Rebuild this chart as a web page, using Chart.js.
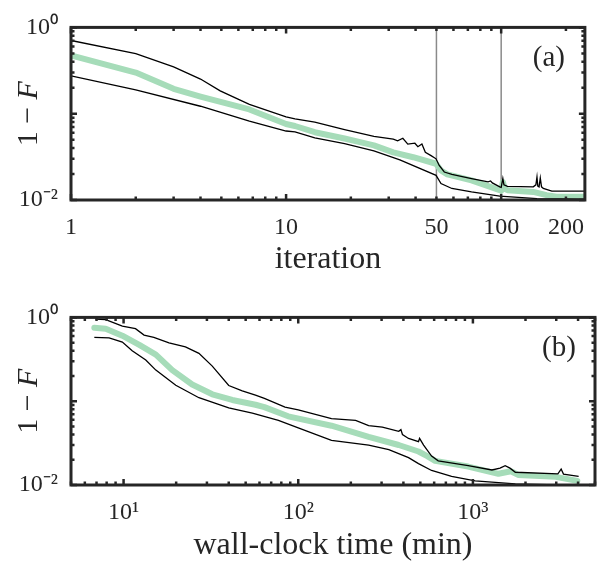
<!DOCTYPE html>
<html><head><meta charset="utf-8">
<script src="https://cdn.jsdelivr.net/npm/chart.js@4/dist/chart.umd.min.js"></script>
<style>
html,body{margin:0;padding:0;background:#fff;}
#wrap{position:relative;width:597px;height:562px;}
canvas{position:absolute;left:0;}
</style></head><body>
<div id="wrap">
<canvas id="ca" width="597" height="290" style="top:0"></canvas>
<canvas id="cb" width="597" height="272" style="top:290px"></canvas>
</div>
<script>
// ---------- Panel (a): 1 - F versus iteration ----------
const upperIterA = [1, 2, 3, 4, 4.94, 6.75, 10, 11, 13.6, 18.7, 25.6, 31.5, 33, 34.9, 36.8, 39.7, 41, 42.8, 44.4, 47.2, 49.8, 51.5, 54.4, 59, 72.8, 86.9, 89.3, 91, 98.5, 100, 101.8, 103, 107, 141, 145, 146.7, 148, 150, 152, 154, 157, 172, 245];
const upperValA  = [0.705, 0.496, 0.349, 0.252, 0.184, 0.128, 0.092, 0.087, 0.080, 0.0655, 0.0545, 0.0507, 0.0485, 0.052, 0.0445, 0.0455, 0.0414, 0.0445, 0.0357, 0.0327, 0.030, 0.0251, 0.0211, 0.0198, 0.0177, 0.0162, 0.0166, 0.0158, 0.0142, 0.0140, 0.0178, 0.0150, 0.0144, 0.0142, 0.0150, 0.0185, 0.0145, 0.0142, 0.0180, 0.0142, 0.0136, 0.0127, 0.0127];
const meanIterA  = [1, 2, 3, 4, 6.75, 10, 11, 13.6, 18.7, 25.6, 31.5, 39, 49.8, 52.5, 56.2, 72.8, 98.5, 100, 101.8, 104, 107, 141, 162.5, 181, 245];
const meanValA   = [0.475, 0.30, 0.194, 0.158, 0.112, 0.076, 0.072, 0.061, 0.0516, 0.043, 0.0356, 0.0313, 0.0263, 0.022, 0.0198, 0.0169, 0.013, 0.0128, 0.0162, 0.0135, 0.013, 0.0124, 0.0114, 0.0109, 0.0109];
const lowerIterA = [1, 2, 4, 6.75, 10, 11, 13.6, 18.7, 25.6, 33.8, 49.8, 52.5, 59, 72.8, 98.5, 146.7, 245];
const lowerValA  = [0.275, 0.189, 0.122, 0.082, 0.063, 0.0615, 0.0525, 0.045, 0.037, 0.0292, 0.0193, 0.0155, 0.0136, 0.0124, 0.0111, 0.0104, 0.0102];
const markerIterA = [50, 100];
const xTicksA = [1, 10, 50, 100, 200];
const xTickLabelsA = ['1', '10', '50', '100', '200'];

// ---------- Panel (b): 1 - F versus wall-clock time ----------
const upperTimeB = [6.9, 7.9, 9.84, 11.7, 13.1, 14.9, 18.2, 22.6, 27, 32.2, 40, 47.8, 56.9, 64, 84, 100, 155, 213, 253, 303, 376, 387, 395, 428, 488, 495, 522, 580, 633, 940, 1285, 1430, 1530, 1630, 1750, 3065, 3200, 3300, 4030];
const upperValB  = [0.956, 0.94, 0.788, 0.734, 0.616, 0.578, 0.498, 0.444, 0.372, 0.262, 0.154, 0.133, 0.118, 0.108, 0.085, 0.079, 0.062, 0.059, 0.0512, 0.049, 0.0437, 0.0458, 0.040, 0.0359, 0.0329, 0.036, 0.030, 0.0221, 0.0194, 0.017, 0.0151, 0.0159, 0.017, 0.0159, 0.0142, 0.0136, 0.0155, 0.0135, 0.0127];
const meanTimeB  = [6.8, 7.9, 9.84, 12.3, 15.3, 19, 24.7, 32.2, 41.9, 56.9, 64, 87.6, 155, 253, 376, 488, 548, 608, 940, 1400, 1650, 1815, 2980, 3960];
const meanValB   = [0.753, 0.734, 0.605, 0.47, 0.36, 0.235, 0.158, 0.121, 0.1035, 0.0907, 0.085, 0.066, 0.051, 0.0376, 0.030, 0.0251, 0.0221, 0.0194, 0.0166, 0.0136, 0.0146, 0.0132, 0.0125, 0.0112];
const lowerTimeB = [6.8, 8.26, 9.84, 11.2, 13.4, 15.3, 19.9, 27, 40, 54.6, 77, 100, 155, 253, 330, 428, 488, 580, 755, 1030, 1750, 4030];
const lowerValB  = [0.578, 0.569, 0.507, 0.40, 0.31, 0.235, 0.155, 0.110, 0.083, 0.072, 0.059, 0.048, 0.034, 0.030, 0.0264, 0.0212, 0.018, 0.0149, 0.0127, 0.0112, 0.0103, 0.0099];
const xTicksB = [10, 100, 1000];
const xTickLabelsB = ['10\u00B9', '10\u00B2', '10\u00B3'];

// ---------- shared y axis ----------
const yTicks = [0.01, 1];
const yTickLabels = ['10\u207B\u00B2', '10\u2070'];
const yTitleMain = '1 \u2212 ';
const yTitleVar = 'F';

const FONT = "'Liberation Serif', 'Times New Roman', serif";
const INK = '#262626';
const GREEN = '#a6dcb9';

function pts(xs, ys) { return xs.map((x, i) => ({x: x, y: ys[i]})); }

function logPositions(lo, hi) {
  const out = [];
  for (let d = Math.floor(Math.log10(lo)) ; d <= Math.ceil(Math.log10(hi)); d++) {
    for (let k = 1; k < 10; k++) {
      const v = k * Math.pow(10, d);
      if (v >= lo * 0.9999 && v <= hi * 1.0001) out.push({v: v, major: k === 1});
    }
  }
  return out;
}

const framePlugin = {
  id: 'frame',
  beforeDatasetsDraw(chart, args, opts) {
    const {ctx, chartArea: a} = chart;
    const xs = chart.scales.x;
    ctx.save();
    ctx.strokeStyle = '#8a8a8a';
    ctx.lineWidth = 1.5;
    (opts.markers || []).forEach(m => {
      const px = xs.getPixelForValue(m);
      ctx.beginPath(); ctx.moveTo(px, a.top); ctx.lineTo(px, a.bottom); ctx.stroke();
    });
    ctx.restore();
  },
  afterDraw(chart, args, opts) {
    const {ctx, chartArea: a} = chart;
    const xs = chart.scales.x, ys = chart.scales.y;
    ctx.save();
    ctx.strokeStyle = INK;
    ctx.lineWidth = 2.5;
    ctx.lineCap = 'butt';
    logPositions(xs.min, xs.max).forEach(t => {
      const px = xs.getPixelForValue(t.v);
      const L = t.major ? 6 : 3.5;
      ctx.beginPath();
      ctx.moveTo(px, a.bottom); ctx.lineTo(px, a.bottom - L);
      ctx.moveTo(px, a.top); ctx.lineTo(px, a.top + L);
      ctx.stroke();
    });
    logPositions(ys.min, ys.max).forEach(t => {
      const py = ys.getPixelForValue(t.v);
      const L = t.major ? 6 : 3.5;
      ctx.beginPath();
      ctx.moveTo(a.left, py); ctx.lineTo(a.left + L, py);
      ctx.moveTo(a.right, py); ctx.lineTo(a.right - L, py);
      ctx.stroke();
    });
    ctx.lineWidth = 3;
    ctx.strokeRect(a.left, a.top, a.right - a.left, a.bottom - a.top);
    // y title "1 - F"
    ctx.fillStyle = INK;
    ctx.translate(37, (a.top + a.bottom) / 2);
    ctx.rotate(-Math.PI / 2);
    ctx.textBaseline = 'alphabetic';
    ctx.font = '30px ' + FONT;
    const w1 = ctx.measureText(yTitleMain).width;
    ctx.font = 'italic 30px ' + FONT;
    const w2 = ctx.measureText(yTitleVar).width;
    const x0 = -(w1 + w2) / 2;
    ctx.font = '30px ' + FONT;
    ctx.fillText(yTitleMain, x0, 0);
    ctx.font = 'italic 30px ' + FONT;
    ctx.fillText(yTitleVar, x0 + w1, 0);
    ctx.restore();
    // panel letter
    ctx.save();
    ctx.fillStyle = INK;
    ctx.font = '29px ' + FONT;
    ctx.textAlign = 'center';
    ctx.textBaseline = 'middle';
    ctx.fillText(opts.letter, a.right - 36, a.top + 31);
    ctx.restore();
  }
};

function makeChart(id, cfg) {
  return new Chart(document.getElementById(id), {
    type: 'line',
    data: {datasets: [
      {data: pts(cfg.ux, cfg.uy), borderColor: '#000', borderWidth: 1.3, pointRadius: 0, tension: 0, fill: false},
      {data: pts(cfg.lx, cfg.ly), borderColor: '#000', borderWidth: 1.3, pointRadius: 0, tension: 0, fill: false},
      {data: pts(cfg.mx, cfg.my), borderColor: GREEN, borderWidth: 6, pointRadius: 0, tension: 0, fill: false, borderJoinStyle: 'round', borderCapStyle: 'round'}
    ]},
    options: {
      responsive: false,
      animation: false,
      layout: {padding: {left: 0, top: cfg.top, right: 2, bottom: 0}},
      plugins: {legend: {display: false}, tooltip: {enabled: false}, frame: {markers: cfg.markers, letter: cfg.letter}},
      scales: {
        x: {
          type: 'logarithmic', min: cfg.xmin, max: cfg.xmax,
          grid: {display: false, drawTicks: false},
          border: {display: false},
          afterBuildTicks: s => { s.ticks = cfg.xt.map(v => ({value: v})); },
          afterFit: s => { s.height = cfg.xh; },
          ticks: {autoSkip: false, maxRotation: 0, padding: cfg.xpad, color: INK,
                  font: {family: FONT, size: 24},
                  callback: (v, i) => cfg.xl[i]},
          title: {display: true, text: cfg.xtitle, color: INK,
                  font: {family: FONT, size: 32, lineHeight: 1}, padding: {top: 0, bottom: cfg.tpad}}
        },
        y: {
          type: 'logarithmic', min: 0.01, max: 1,
          grid: {display: false, drawTicks: false},
          border: {display: false},
          afterBuildTicks: s => { s.ticks = yTicks.map(v => ({value: v})); },
          afterFit: s => { s.width = 71; },
          ticks: {autoSkip: false, padding: 13, color: INK,
                  font: {family: FONT, size: 24},
                  callback: (v, i) => yTickLabels[i]},
          title: {display: false}
        }
      }
    },
    plugins: [framePlugin]
  });
}

makeChart('ca', {ux: upperIterA, uy: upperValA, lx: lowerIterA, ly: lowerValA, mx: meanIterA, my: meanValA,
  xmin: 1, xmax: 245, xt: xTicksA, xl: xTickLabelsA, xtitle: 'iteration', top: 25, xh: 90, xpad: 13, tpad: 14,
  markers: markerIterA, letter: '(a)'});
makeChart('cb', {ux: upperTimeB, uy: upperValB, lx: lowerTimeB, ly: lowerValB, mx: meanTimeB, my: meanValB,
  xmin: 5, xmax: 5000, xt: xTicksB, xl: xTickLabelsB, xtitle: 'wall-clock time (min)', top: 21, xh: 77, xpad: 13, tpad: 0,
  markers: [], letter: '(b)'});
</script>
</body></html>
